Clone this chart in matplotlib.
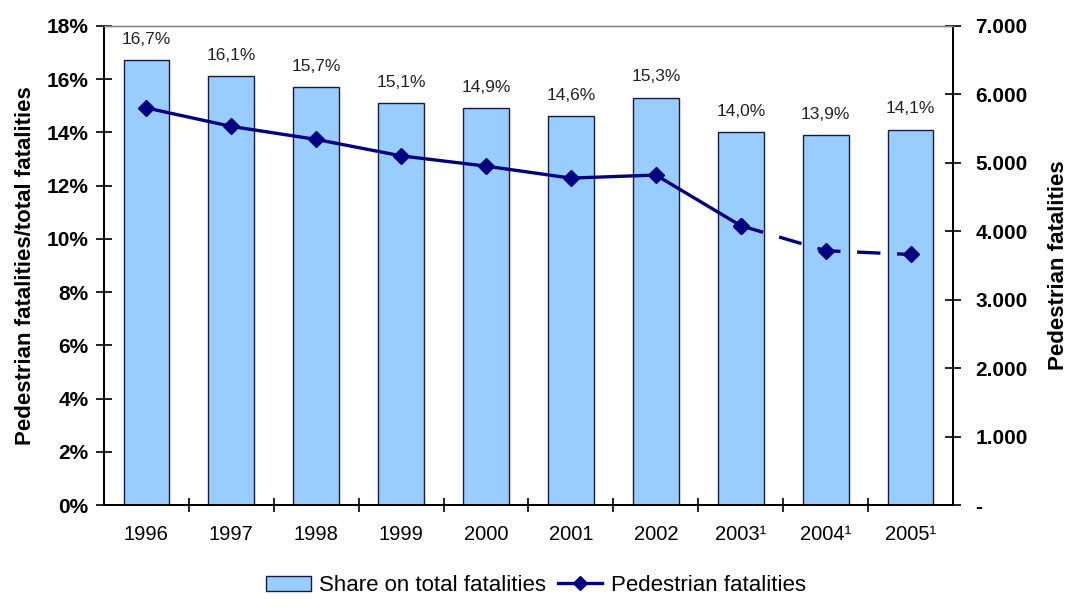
import matplotlib
matplotlib.use('Agg')
import matplotlib.pyplot as plt
from matplotlib.ticker import FuncFormatter, FixedLocator
from matplotlib.lines import Line2D
from matplotlib.patches import Patch

plt.rcParams['font.family'] = ['Liberation Sans', 'DejaVu Sans']

years = ['1996', '1997', '1998', '1999', '2000', '2001', '2002', '2003¹', '2004¹', '2005¹']
share = [16.7, 16.1, 15.7, 15.1, 14.9, 14.6, 15.3, 14.0, 13.9, 14.1]
pedestrians = [5800, 5530, 5340, 5100, 4950, 4775, 4820, 4080, 3715, 3660]

x = list(range(len(years)))
navy = '#000080'
bar_blue = '#99CCFF'

fig = plt.figure(figsize=(10.72, 6.13), dpi=100)
ax = fig.add_axes([0.097, 0.176, 0.792, 0.782])
ax2 = ax.twinx()

ax.bar(x, share, width=0.54, color=bar_blue, edgecolor='#1a1a40', linewidth=1.0, zorder=2)
for xi, v in zip(x, share):
    ax.text(xi, v + 0.5, f'{v:.1f}%'.replace('.', ','), ha='center', va='bottom',
            fontsize=12.5, color='#222222')

ax.set_xlim(-0.5, len(years) - 0.5)
ax.set_ylim(0, 18)
ax.set_yticks(range(0, 19, 2))
ax.yaxis.set_major_formatter(FuncFormatter(lambda v, p: f'{int(v)}%'))
ax.set_xticks(x)
ax.set_xticklabels(years, fontsize=14.5)
ax.xaxis.set_minor_locator(FixedLocator([i + 0.5 for i in x[:-1]]))
ax.tick_params(axis='x', which='major', length=0, pad=14)
ax.tick_params(axis='x', which='minor', length=10, direction='inout', width=1.2)
ax.tick_params(axis='y', length=12, direction='inout', width=1.2, labelsize=15, pad=5)
for lbl in ax.get_yticklabels():
    lbl.set_fontweight('bold')
ax.set_ylabel('Pedestrian fatalities/total fatalities', fontsize=16, fontweight='bold', labelpad=8)

# solid part up to 2003, dashed after
ax2.plot(x[:8], pedestrians[:8], color=navy, linewidth=2.4, marker='D', markersize=8, zorder=3)
ax2.plot(x[7:], pedestrians[7:], color=navy, linewidth=2.4, linestyle=(0, (7, 5)),
         marker='D', markersize=8, zorder=3)
ax2.set_ylim(0, 7000)
ax2.set_yticks(range(0, 7001, 1000))
ax2.yaxis.set_major_formatter(FuncFormatter(
    lambda v, p: '-' if v == 0 else f'{int(v):,}'.replace(',', '.')))
ax2.tick_params(axis='y', length=12, direction='inout', width=1.2, labelsize=15, pad=10)
for lbl in ax2.get_yticklabels():
    lbl.set_fontweight('bold')
ax2.set_ylabel('Pedestrian fatalities', fontsize=16, fontweight='bold', labelpad=15)

for a in (ax, ax2):
    a.spines['top'].set_color('#888888')
    a.spines['top'].set_linewidth(1.0)
    a.spines['left'].set_linewidth(1.3)
    a.spines['right'].set_linewidth(1.3)
    a.spines['bottom'].set_linewidth(1.3)

handles = [Patch(facecolor=bar_blue, edgecolor='#1a1a40', label='Share on total fatalities'),
           Line2D([0], [0], color=navy, linewidth=2.4, marker='D', markersize=7,
                  label='Pedestrian fatalities')]
fig.legend(handles=handles, loc='lower center', bbox_to_anchor=(0.5, -0.005), ncol=2,
           frameon=False, fontsize=16, handlelength=2.0, columnspacing=0.5, handletextpad=0.4)

fig.savefig('out.png', dpi=100)
